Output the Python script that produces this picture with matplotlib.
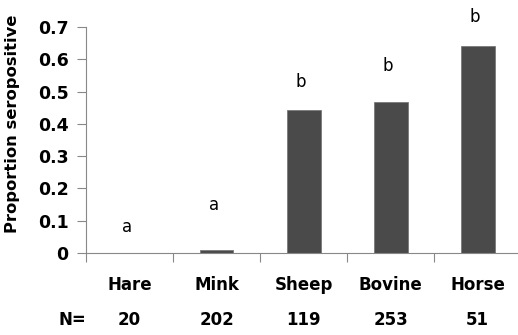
import matplotlib.pyplot as plt
import numpy as np

# Seroprevalence per species
species = ['Hare', 'Mink', 'Sheep', 'Bovine', 'Horse']
sample_n = [20, 202, 119, 253, 51]
proportion = [0.0, 0.008, 0.443, 0.468, 0.641]
groups = ['a', 'a', 'b', 'b', 'b']
letter_y = [0.08, 0.15, 0.53, 0.58, 0.73]

plt.rcParams['font.family'] = 'DejaVu Sans'

fig = plt.figure(figsize=(5.18, 3.35), dpi=100)
ax = fig.add_axes([0.166, 0.245, 0.84, 0.674])

x = np.arange(len(species))
ax.bar(x, proportion, width=0.39, color='#4a4a4a', edgecolor='#7a7a7a', linewidth=0.6)

for xi, g, ly in zip(x, groups, letter_y):
    ax.text(xi - 0.03, ly, g, ha='center', va='center', fontsize=12, clip_on=False)

ax.set_xlim(-0.5, 4.47)
ax.set_ylim(0, 0.7)
ax.set_yticks(np.arange(0, 0.71, 0.1))
ax.set_yticklabels(['0'] + [f'{v:.1f}' for v in np.arange(0.1, 0.71, 0.1)],
                   fontweight='bold', fontsize=12.5)
ax.set_xticks(np.arange(-0.5, 4.6, 1.0))
ax.set_xticklabels([])
ax.tick_params(axis='both', color='#888888', length=6.5, width=0.8)
ax.tick_params(axis='y', pad=6)

for side in ['top', 'right']:
    ax.spines[side].set_visible(False)
for side in ['left', 'bottom']:
    ax.spines[side].set_color('#888888')
    ax.spines[side].set_linewidth(0.8)

ax.set_ylabel('Proportion seropositive', fontweight='bold', fontsize=11.8,
              va='center')
ax.yaxis.set_label_coords(-0.17, 0.57)

# Species names and sample sizes under the axis
trans = ax.get_xaxis_transform()
for xi, name, n in zip(x, species, sample_n):
    ax.text(xi, -0.142, name, ha='center', va='center', fontweight='bold',
            fontsize=12, transform=trans, clip_on=False)
    ax.text(xi, -0.296, str(n), ha='center', va='center', fontweight='bold',
            fontsize=12, transform=trans, clip_on=False)
ax.text(-0.66, -0.296, 'N=', ha='center', va='center', fontweight='bold',
        fontsize=12, transform=trans, clip_on=False)

fig.savefig('out.png', dpi=100)
